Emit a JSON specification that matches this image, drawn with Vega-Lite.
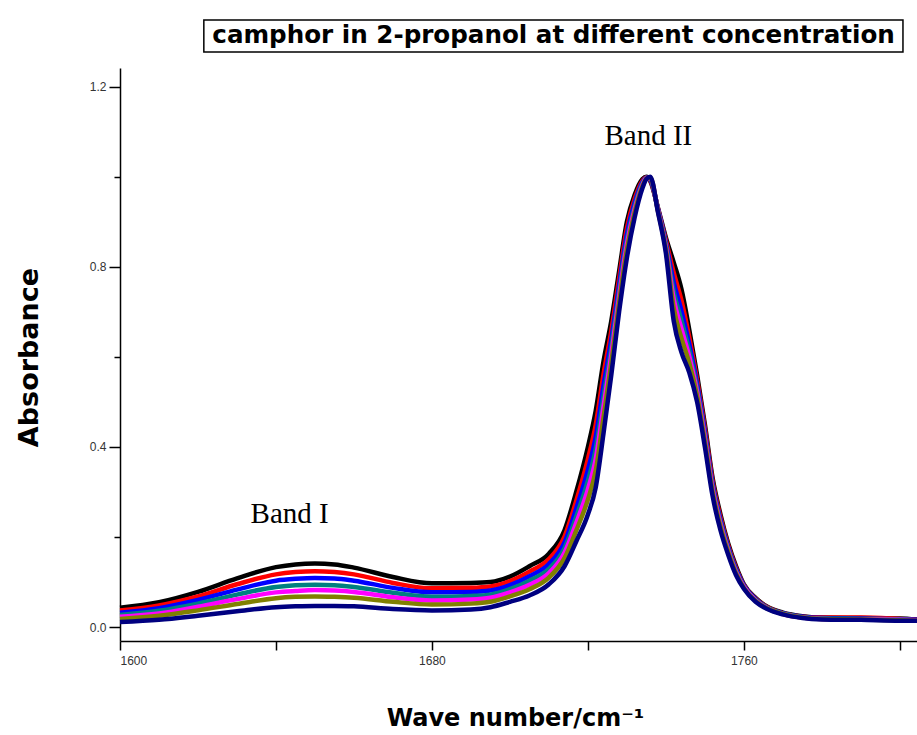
{
  "$schema": "https://vega.github.io/schema/vega-lite/v6.json",
  "autosize": "none",
  "width": 797,
  "height": 573,
  "padding": {"left": 120, "top": 68, "right": 0, "bottom": 94},
  "background": "white",
  "config": {"view": {"stroke": null}},
  "datasets": {
    "spectra": [
      {"x":1600,"c1":0.043,"c2":0.037,"c3":0.032,"c4":0.027,"c5":0.023,"c6":0.018,"c7":0.011},
      {"x":1610,"c1":0.055,"c2":0.048,"c3":0.042,"c4":0.036,"c5":0.030,"c6":0.025,"c7":0.016},
      {"x":1620,"c1":0.078,"c2":0.068,"c3":0.060,"c4":0.052,"c5":0.045,"c6":0.037,"c7":0.025},
      {"x":1630,"c1":0.108,"c2":0.095,"c3":0.083,"c4":0.072,"c5":0.062,"c6":0.051,"c7":0.035},
      {"x":1640,"c1":0.133,"c2":0.117,"c3":0.103,"c4":0.089,"c5":0.077,"c6":0.064,"c7":0.044},
      {"x":1645,"c1":0.139,"c2":0.122,"c3":0.107,"c4":0.093,"c5":0.080,"c6":0.067,"c7":0.046},
      {"x":1650,"c1":0.141,"c2":0.124,"c3":0.109,"c4":0.094,"c5":0.082,"c6":0.068,"c7":0.047},
      {"x":1655,"c1":0.139,"c2":0.122,"c3":0.108,"c4":0.093,"c5":0.081,"c6":0.067,"c7":0.047},
      {"x":1660,"c1":0.132,"c2":0.117,"c3":0.103,"c4":0.089,"c5":0.078,"c6":0.065,"c7":0.046},
      {"x":1670,"c1":0.111,"c2":0.098,"c3":0.087,"c4":0.076,"c5":0.066,"c6":0.056,"c7":0.040},
      {"x":1680,"c1":0.097,"c2":0.086,"c3":0.077,"c4":0.067,"c5":0.059,"c6":0.050,"c7":0.037},
      {"x":1690,"c1":0.098,"c2":0.087,"c3":0.078,"c4":0.069,"c5":0.061,"c6":0.052,"c7":0.039},
      {"x":1695,"c1":0.100,"c2":0.090,"c3":0.081,"c4":0.072,"c5":0.065,"c6":0.056,"c7":0.044},
      {"x":1700,"c1":0.112,"c2":0.102,"c3":0.093,"c4":0.084,"c5":0.077,"c6":0.068,"c7":0.056},
      {"x":1705,"c1":0.135,"c2":0.123,"c3":0.113,"c4":0.103,"c5":0.094,"c6":0.084,"c7":0.070},
      {"x":1710,"c1":0.163,"c2":0.151,"c3":0.140,"c4":0.129,"c5":0.120,"c6":0.110,"c7":0.095},
      {"x":1714,"c1":0.215,"c2":0.201,"c3":0.188,"c4":0.175,"c5":0.165,"c6":0.153,"c7":0.135},
      {"x":1717,"c1":0.300,"c2":0.280,"c3":0.263,"c4":0.245,"c5":0.231,"c6":0.214,"c7":0.190},
      {"x":1720,"c1":0.400,"c2":0.373,"c3":0.349,"c4":0.325,"c5":0.306,"c6":0.283,"c7":0.250},
      {"x":1722,"c1":0.480,"c2":0.449,"c3":0.422,"c4":0.395,"c5":0.373,"c6":0.347,"c7":0.310},
      {"x":1724,"c1":0.590,"c2":0.561,"c3":0.536,"c4":0.510,"c5":0.489,"c6":0.465,"c7":0.430},
      {"x":1726,"c1":0.680,"c2":0.658,"c3":0.639,"c4":0.620,"c5":0.604,"c6":0.586,"c7":0.560},
      {"x":1728,"c1":0.790,"c2":0.774,"c3":0.759,"c4":0.745,"c5":0.733,"c6":0.720,"c7":0.700},
      {"x":1730,"c1":0.900,"c2":0.886,"c3":0.873,"c4":0.860,"c5":0.850,"c6":0.838,"c7":0.820},
      {"x":1732,"c1":0.960,"c2":0.951,"c3":0.943,"c4":0.935,"c5":0.928,"c6":0.921,"c7":0.910},
      {"x":1734,"c1":0.995,"c2":0.991,"c3":0.988,"c4":0.985,"c5":0.982,"c6":0.979,"c7":0.975},
      {"x":1735,"c1":1.000,"c2":0.999,"c3":0.998,"c4":0.998,"c5":0.997,"c6":0.996,"c7":0.995},
      {"x":1736,"c1":0.990,"c2":0.992,"c3":0.993,"c4":0.995,"c5":0.996,"c6":0.998,"c7":1.000},
      {"x":1738,"c1":0.930,"c2":0.928,"c3":0.927,"c4":0.925,"c5":0.924,"c6":0.922,"c7":0.920},
      {"x":1740,"c1":0.865,"c2":0.859,"c3":0.853,"c4":0.848,"c5":0.843,"c6":0.838,"c7":0.830},
      {"x":1742,"c1":0.810,"c2":0.787,"c3":0.766,"c4":0.745,"c5":0.728,"c6":0.709,"c7":0.680},
      {"x":1744,"c1":0.750,"c2":0.725,"c3":0.702,"c4":0.680,"c5":0.662,"c6":0.641,"c7":0.610},
      {"x":1746,"c1":0.660,"c2":0.643,"c3":0.628,"c4":0.613,"c5":0.600,"c6":0.586,"c7":0.565},
      {"x":1748,"c1":0.560,"c2":0.549,"c3":0.540,"c4":0.530,"c5":0.522,"c6":0.513,"c7":0.500},
      {"x":1750,"c1":0.450,"c2":0.441,"c3":0.433,"c4":0.425,"c5":0.419,"c6":0.411,"c7":0.400},
      {"x":1752,"c1":0.330,"c2":0.323,"c3":0.316,"c4":0.310,"c5":0.305,"c6":0.299,"c7":0.290},
      {"x":1754,"c1":0.250,"c2":0.244,"c3":0.238,"c4":0.233,"c5":0.228,"c6":0.223,"c7":0.215},
      {"x":1756,"c1":0.185,"c2":0.181,"c3":0.177,"c4":0.173,"c5":0.169,"c6":0.166,"c7":0.160},
      {"x":1758,"c1":0.135,"c2":0.131,"c3":0.128,"c4":0.125,"c5":0.122,"c6":0.119,"c7":0.115},
      {"x":1760,"c1":0.095,"c2":0.093,"c3":0.092,"c4":0.090,"c5":0.089,"c6":0.087,"c7":0.085},
      {"x":1763,"c1":0.065,"c2":0.063,"c3":0.062,"c4":0.061,"c5":0.059,"c6":0.058,"c7":0.056},
      {"x":1766,"c1":0.045,"c2":0.044,"c3":0.043,"c4":0.043,"c5":0.042,"c6":0.041,"c7":0.040},
      {"x":1770,"c1":0.032,"c2":0.031,"c3":0.031,"c4":0.030,"c5":0.029,"c6":0.029,"c7":0.028},
      {"x":1775,"c1":0.024,"c2":0.023,"c3":0.023,"c4":0.022,"c5":0.021,"c6":0.021,"c7":0.020},
      {"x":1780,"c1":0.021,"c2":0.021,"c3":0.020,"c4":0.019,"c5":0.018,"c6":0.018,"c7":0.017},
      {"x":1790,"c1":0.020,"c2":0.021,"c3":0.019,"c4":0.018,"c5":0.017,"c6":0.017,"c7":0.016},
      {"x":1800,"c1":0.019,"c2":0.018,"c3":0.017,"c4":0.017,"c5":0.016,"c6":0.015,"c7":0.014},
      {"x":1805,"c1":0.016,"c2":0.016,"c3":0.016,"c4":0.015,"c5":0.015,"c6":0.014,"c7":0.014}
    ],
    "annotation": [{}]
  },
  "layer": [
    {
      "data": {"name": "spectra"},
      "transform": [
        {"fold": ["c1", "c2", "c3", "c4", "c5", "c6", "c7"], "as": ["series", "absorbance"]}
      ],
      "mark": {"type": "line", "strokeWidth": 4.5, "interpolate": "monotone", "strokeJoin": "round"},
      "encoding": {
        "x": {
          "field": "x", "type": "quantitative",
          "scale": {"domain": [1600, 1804.4], "nice": false, "zero": false},
          "axis": {
            "title": "Wave number/cm⁻¹",
            "values": [1600, 1640, 1680, 1720, 1760, 1800],
            "labelExpr": "datum.value % 80 == 0 ? format(datum.value, 'd') : ''",
            "grid": false,
            "domainColor": "#000", "domainWidth": 1.5,
            "tickColor": "#000", "tickWidth": 1.5, "tickSize": 9,
            "labelFont": "Liberation Sans", "labelFontSize": 12, "labelColor": "#333",
            "labelPadding": 5,
            "titleFont": "DejaVu Sans", "titleFontWeight": "bold", "titleFontSize": 24, "titleColor": "#000",
            "titleX": 395, "titleY": 84, "titleBaseline": "alphabetic", "titleAlign": "center"
          }
        },
        "y": {
          "field": "absorbance", "type": "quantitative",
          "scale": {"domain": [-0.031, 1.2415], "nice": false, "zero": false},
          "axis": {
            "title": "Absorbance",
            "values": [0, 0.2, 0.4, 0.6, 0.8, 1.0, 1.2],
            "labelExpr": "round(datum.value * 10) % 4 == 0 ? format(datum.value, '.1f') : ''",
            "grid": false,
            "domainColor": "#000", "domainWidth": 1.5,
            "tickColor": "#000", "tickWidth": 1.5,
            "tickSize": {"condition": {"test": "round(datum.value * 10) % 4 == 0", "value": 11}, "value": 6},
            "labelFont": "Liberation Sans", "labelFontSize": 12, "labelColor": "#333",
            "labelPadding": 3,
            "titleFont": "DejaVu Sans", "titleFontWeight": "bold", "titleFontSize": 27, "titleColor": "#000",
            "titleAngle": -90, "titleX": -91, "titleY": 289, "titleAlign": "center", "titleBaseline": "middle"
          }
        },
        "color": {
          "field": "series", "type": "nominal",
          "scale": {
            "domain": ["c1", "c2", "c3", "c4", "c5", "c6", "c7"],
            "range": ["#000000", "#ff0000", "#0000ff", "#008080", "#ff00ff", "#808000", "#000080"]
          },
          "legend": null
        }
      }
    },
    {
      "data": {"name": "annotation"},
      "mark": {"type": "rect", "fill": "white", "stroke": "#000", "strokeWidth": 1.5},
      "encoding": {
        "x": {"datum": 1621.5},
        "x2": {"datum": 1800.8},
        "y": {"datum": 1.348},
        "y2": {"datum": 1.277}
      }
    },
    {
      "data": {"name": "annotation"},
      "mark": {"type": "text", "font": "DejaVu Sans", "fontWeight": "bold", "fontSize": 24.6, "align": "center", "baseline": "middle", "color": "#000"},
      "encoding": {
        "x": {"datum": 1711.2},
        "y": {"datum": 1.3125},
        "text": {"value": "camphor in 2-propanol at different concentration"}
      }
    },
    {
      "data": {"name": "annotation"},
      "mark": {"type": "text", "font": "Liberation Serif", "fontSize": 29, "align": "center", "baseline": "alphabetic", "color": "#000"},
      "encoding": {
        "x": {"datum": 1643.5},
        "y": {"datum": 0.231},
        "text": {"value": "Band I"}
      }
    },
    {
      "data": {"name": "annotation"},
      "mark": {"type": "text", "font": "Liberation Serif", "fontSize": 29, "align": "center", "baseline": "alphabetic", "color": "#000"},
      "encoding": {
        "x": {"datum": 1735.5},
        "y": {"datum": 1.07},
        "text": {"value": "Band II"}
      }
    }
  ]
}
